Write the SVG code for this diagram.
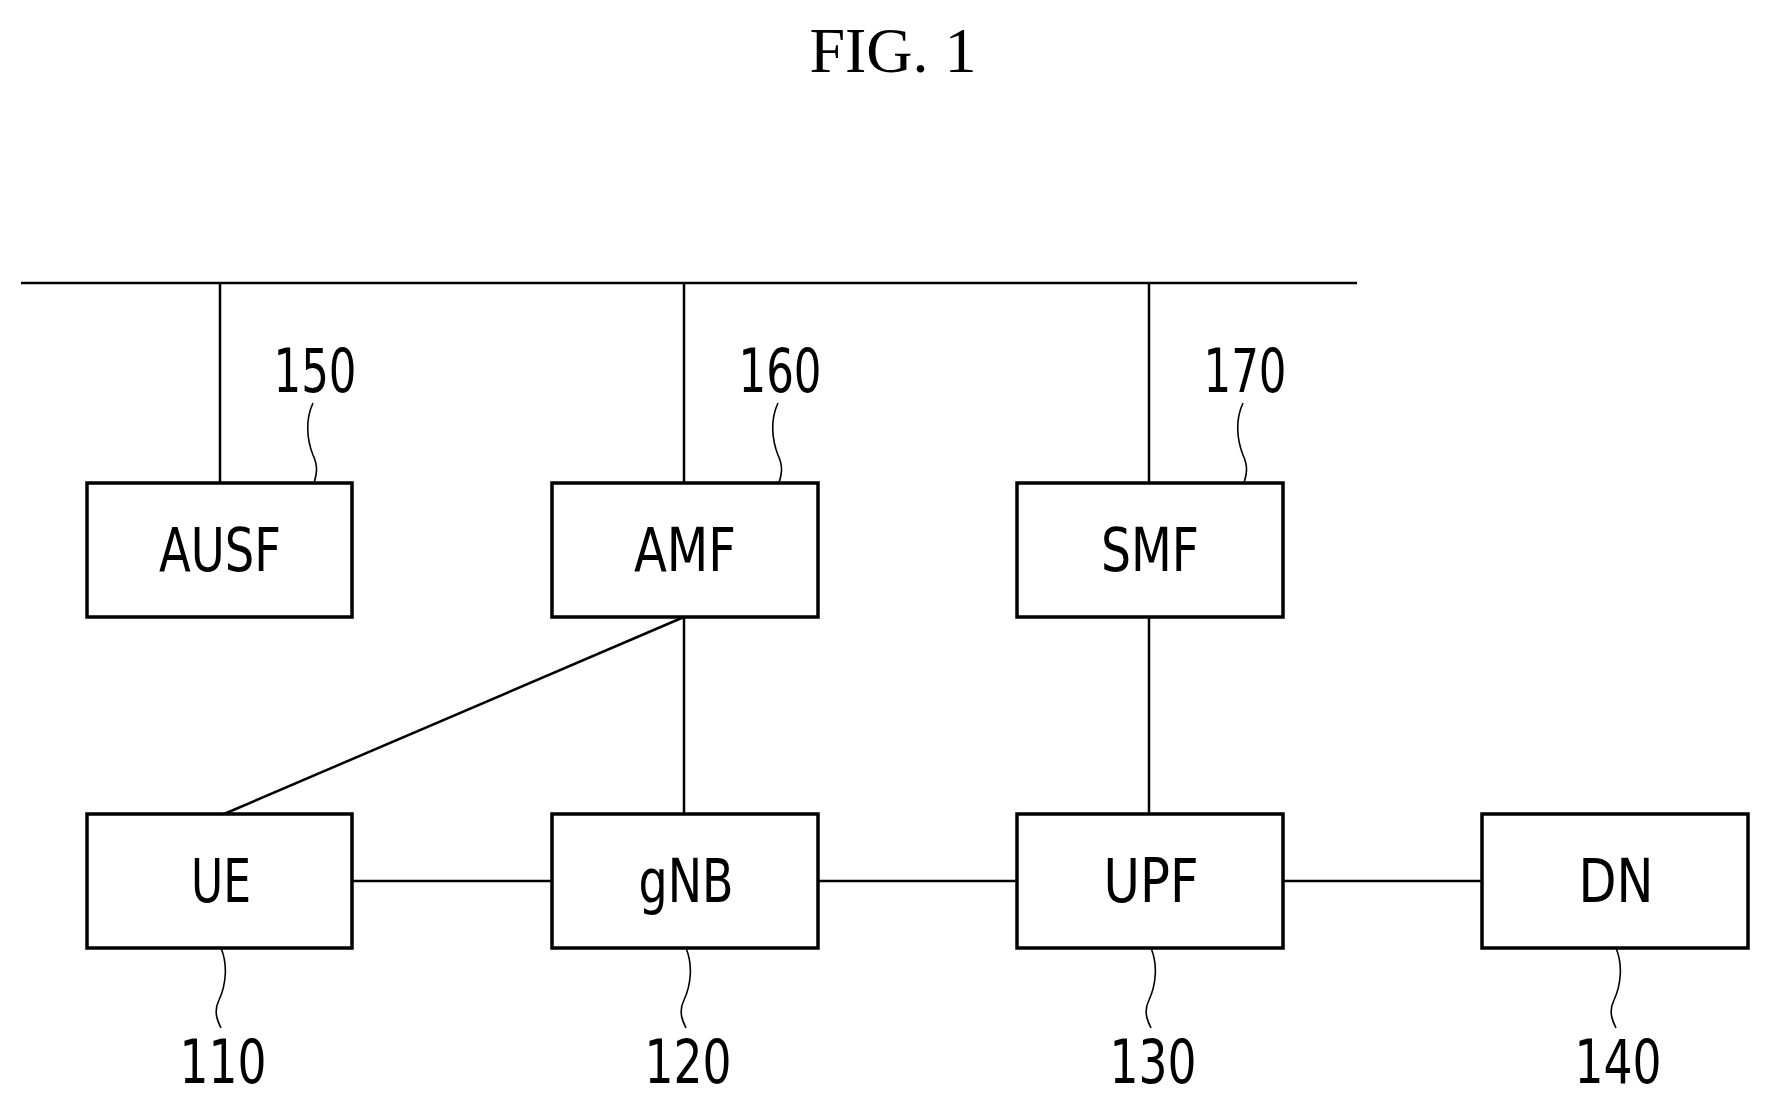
<svg xmlns="http://www.w3.org/2000/svg" width="1769" height="1105" viewBox="0 0 1769 1105">
<style>
.box{fill:#fff;stroke:#000;stroke-width:3.5}
.ln{stroke:#000;stroke-width:2.5;fill:none}
.ld{stroke:#000;stroke-width:1.6;fill:none}
.t{font-family:"DejaVu Sans Condensed","DejaVu Sans",sans-serif;font-size:60px;text-anchor:middle;fill:#000}
.ttl{font-family:"Liberation Serif",serif;font-size:64px;text-anchor:middle;fill:#000}
</style>
<text class="ttl" x="893" y="72">FIG. 1</text>
<g id="connectors">
<line class="ln" x1="21" y1="283" x2="1357" y2="283"/>
<line class="ln" x1="220" y1="283" x2="220" y2="483"/>
<line class="ln" x1="684" y1="283" x2="684" y2="483"/>
<line class="ln" x1="1149" y1="283" x2="1149" y2="483"/>
<line class="ln" x1="684" y1="617" x2="224" y2="814"/>
<line class="ln" x1="684" y1="617" x2="684" y2="814"/>
<line class="ln" x1="1149" y1="617" x2="1149" y2="814"/>
<line class="ln" x1="352" y1="881" x2="552" y2="881"/>
<line class="ln" x1="818" y1="881" x2="1017" y2="881"/>
<line class="ln" x1="1283" y1="881" x2="1482" y2="881"/>
</g>
<g id="leaders">
<path class="ld" d="M313 403 C305 420,307 440,313 455 C319 468,316 476,314 483"/>
<path class="ld" d="M778 403 C770 420,772 440,778 455 C784 468,781 476,779 483"/>
<path class="ld" d="M1243 403 C1235 420,1237 440,1243 455 C1249 468,1246 476,1244 483"/>
<path class="ld" d="M221 948 C228 965,226 985,219 1000 C213 1012,218 1022,221 1028"/>
<path class="ld" d="M686 948 C693 965,691 985,684 1000 C678 1012,683 1022,686 1028"/>
<path class="ld" d="M1151 948 C1158 965,1156 985,1149 1000 C1143 1012,1148 1022,1151 1028"/>
<path class="ld" d="M1616 948 C1623 965,1621 985,1614 1000 C1608 1012,1613 1022,1616 1028"/>
</g>
<g id="AUSF"><rect class="box" x="87" y="483" width="265" height="134"/><text class="t" x="220" y="571" textLength="122" lengthAdjust="spacingAndGlyphs">AUSF</text><text class="t" x="315" y="392" textLength="83" lengthAdjust="spacingAndGlyphs">150</text></g>
<g id="AMF"><rect class="box" x="552" y="483" width="266" height="134"/><text class="t" x="685" y="571" textLength="102" lengthAdjust="spacingAndGlyphs">AMF</text><text class="t" x="780" y="392" textLength="83" lengthAdjust="spacingAndGlyphs">160</text></g>
<g id="SMF"><rect class="box" x="1017" y="483" width="266" height="134"/><text class="t" x="1150" y="571" textLength="98" lengthAdjust="spacingAndGlyphs">SMF</text><text class="t" x="1245" y="392" textLength="83" lengthAdjust="spacingAndGlyphs">170</text></g>
<g id="UE"><rect class="box" x="87" y="814" width="265" height="134"/><text class="t" x="221" y="902" textLength="60" lengthAdjust="spacingAndGlyphs">UE</text><text class="t" x="223" y="1083" textLength="87" lengthAdjust="spacingAndGlyphs">110</text></g>
<g id="gNB"><rect class="box" x="552" y="814" width="266" height="134"/><text class="t" x="686" y="902" textLength="95" lengthAdjust="spacingAndGlyphs">gNB</text><text class="t" x="688" y="1083" textLength="87" lengthAdjust="spacingAndGlyphs">120</text></g>
<g id="UPF"><rect class="box" x="1017" y="814" width="266" height="134"/><text class="t" x="1151" y="902" textLength="95" lengthAdjust="spacingAndGlyphs">UPF</text><text class="t" x="1153" y="1083" textLength="87" lengthAdjust="spacingAndGlyphs">130</text></g>
<g id="DN"><rect class="box" x="1482" y="814" width="266" height="134"/><text class="t" x="1616" y="902" textLength="75" lengthAdjust="spacingAndGlyphs">DN</text><text class="t" x="1618" y="1083" textLength="87" lengthAdjust="spacingAndGlyphs">140</text></g>
</svg>
